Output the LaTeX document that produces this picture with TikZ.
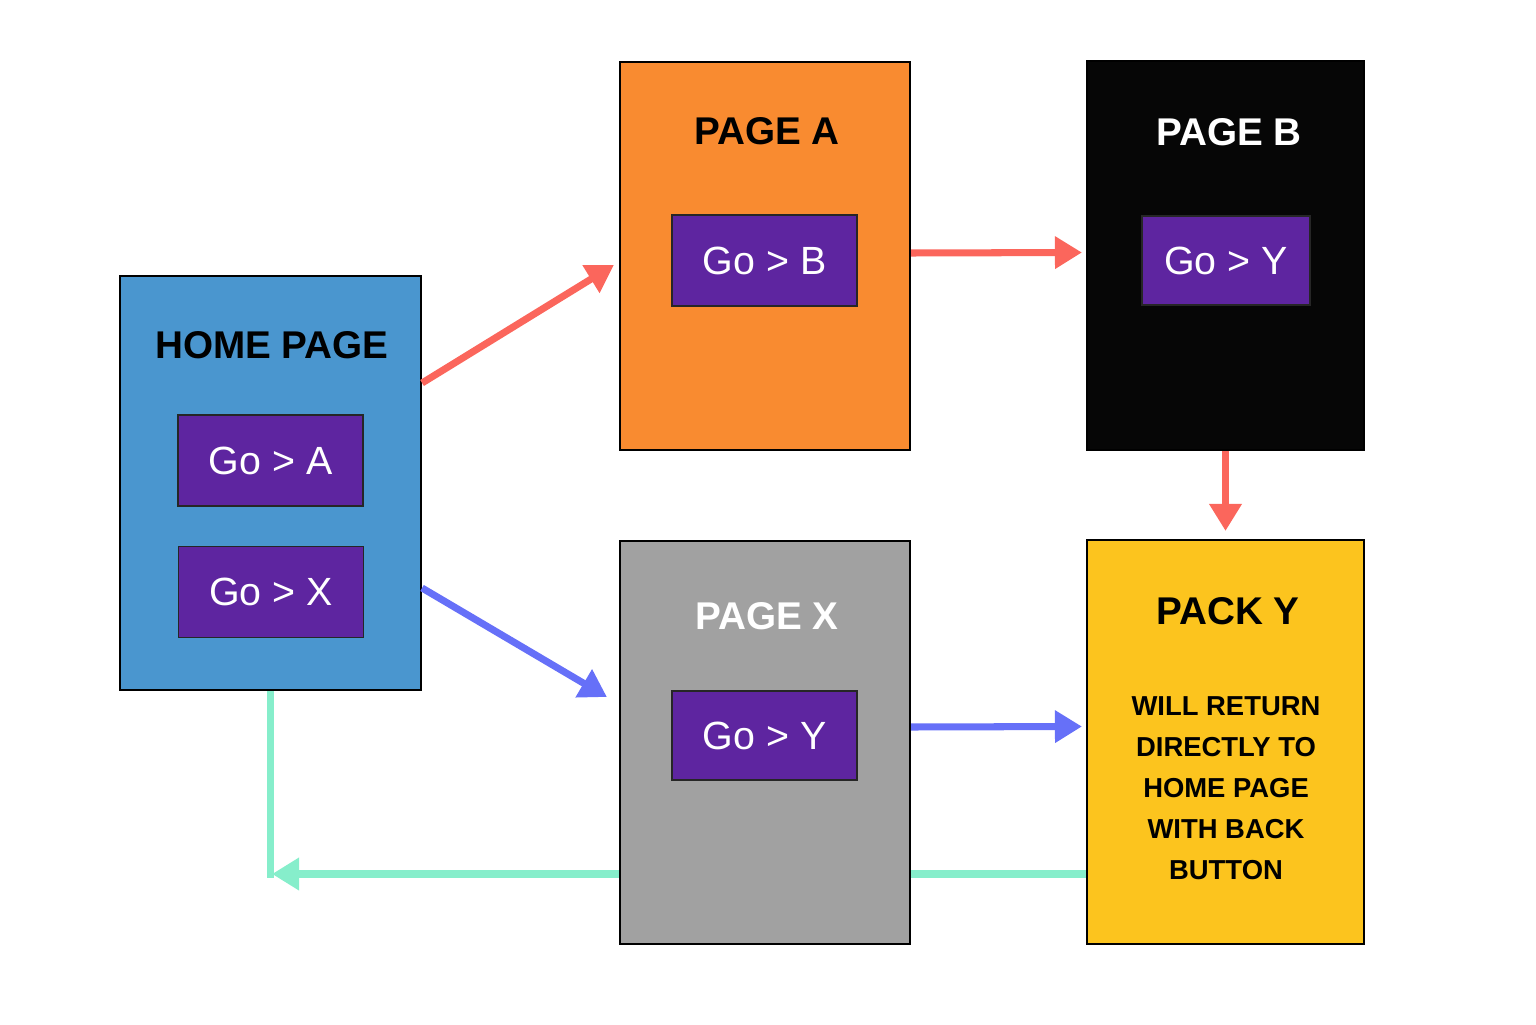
\documentclass[tikz,border=0pt]{standalone}
\usepackage{fontspec}
\setmainfont{Liberation Sans}
\usetikzlibrary{positioning,arrows.meta}

\definecolor{homeblue}{HTML}{4A96CF}
\definecolor{btnpurple}{HTML}{5E25A0}
\definecolor{pageorange}{HTML}{F98B30}
\definecolor{pageblack}{HTML}{060606}
\definecolor{pagegray}{HTML}{A1A1A1}
\definecolor{packyellow}{HTML}{FCC41E}
\definecolor{linkred}{HTML}{FB665C}
\definecolor{linkblue}{HTML}{6670F8}
\definecolor{backteal}{HTML}{86EECB}

\begin{document}
\begin{tikzpicture}[
    page/.style={draw=black, line width=0.6pt, inner sep=0pt},
    button/.style={draw=black!85, line width=0.5pt, fill=btnpurple, text=white,
        minimum width=1.85cm, minimum height=0.91cm, inner sep=0pt,
        font=\fontsize{11.2}{13}\selectfont},
    pagetitle/.style={font=\bfseries\fontsize{11}{13}\selectfont},
    tip/.style={-{Triangle[length=2.7mm,width=3.1mm]}},
    redlink/.style={draw=linkred, line width=2pt, tip},
    bluelink/.style={draw=linkblue, line width=2pt, tip},
    backlink/.style={draw=backteal, line width=2pt}
]
    \useasboundingbox (0,0) rectangle (15.36,10.24);

    % Pages
    \node[page, fill=homeblue, minimum width=3.01cm, minimum height=4.14cm] (home) at (2.705,5.41) {};
    \node[page, fill=pageorange, minimum width=2.90cm, minimum height=3.88cm] (pagea) at (7.65,7.68) {};
    \node[page, fill=pageblack, minimum width=2.77cm, minimum height=3.89cm] (pageb) at (12.255,7.685) {};
    \node[page, fill=pagegray, minimum width=2.90cm, minimum height=4.03cm] (pagex) at (7.65,2.815) {};
    \node[page, fill=packyellow, minimum width=2.77cm, minimum height=4.04cm] (packy) at (12.255,2.82) {};

    % Titles
    \node[pagetitle] (hometitle) at (2.72,6.79) {HOME PAGE};
    \node[pagetitle] (pageatitle) at (7.67,8.93) {PAGE A};
    \node[pagetitle, text=white] (pagebtitle) at (12.29,8.92) {PAGE B};
    \node[pagetitle, text=white] (pagextitle) at (7.67,4.08) {PAGE X};
    \node[pagetitle] (packytitle) at (12.28,4.13) {PACK Y};
    \node[font=\bfseries\fontsize{7.8}{11.7}\selectfont, align=center] (packynote) at (12.26,2.36)
        {WILL RETURN\\DIRECTLY TO\\HOME PAGE\\WITH BACK\\BUTTON};

    % Buttons
    \node[button] (goa) at (2.705,5.635) {Go > A};
    \node[button] (gox) at (2.71,4.32) {Go > X};
    \node[button] (gob) at (7.645,7.635) {Go > B};
    \node[button, minimum width=1.68cm, minimum height=0.89cm] (goyb) at (12.26,7.635) {Go > Y};
    \node[button, minimum height=0.89cm] (goyx) at (7.645,2.885) {Go > Y};

    % Forward links
    \draw[redlink] ([yshift=1.0cm]home.east) -- ([xshift=-0.5mm,yshift=-0.9mm]pagea.west);
    \draw[redlink] ([yshift=0.3mm]pagea.east) -- ([xshift=-0.4mm,yshift=0.3mm]pageb.west);
    \draw[redlink] (pageb.south) -- ([yshift=0.8mm]packy.north);
    \draw[bluelink] ([yshift=-1.05cm]home.east) -- ([xshift=-1.2mm,yshift=4.55mm]pagex.west);
    \draw[bluelink] ([yshift=1.55mm]pagex.east) -- ([xshift=-0.4mm,yshift=1.55mm]packy.west);

    % Back link
    \coordinate (corner) at (home.south |- 0,1.50);
    \draw[backlink] (packy.west |- corner) -- (pagex.east |- corner);
    \draw[backlink, tip] (pagex.west |- corner) -- ([xshift=0.15mm]corner);
    \draw[backlink] (home.south) -- ([yshift=-1pt]corner);

\end{tikzpicture}
\end{document}
